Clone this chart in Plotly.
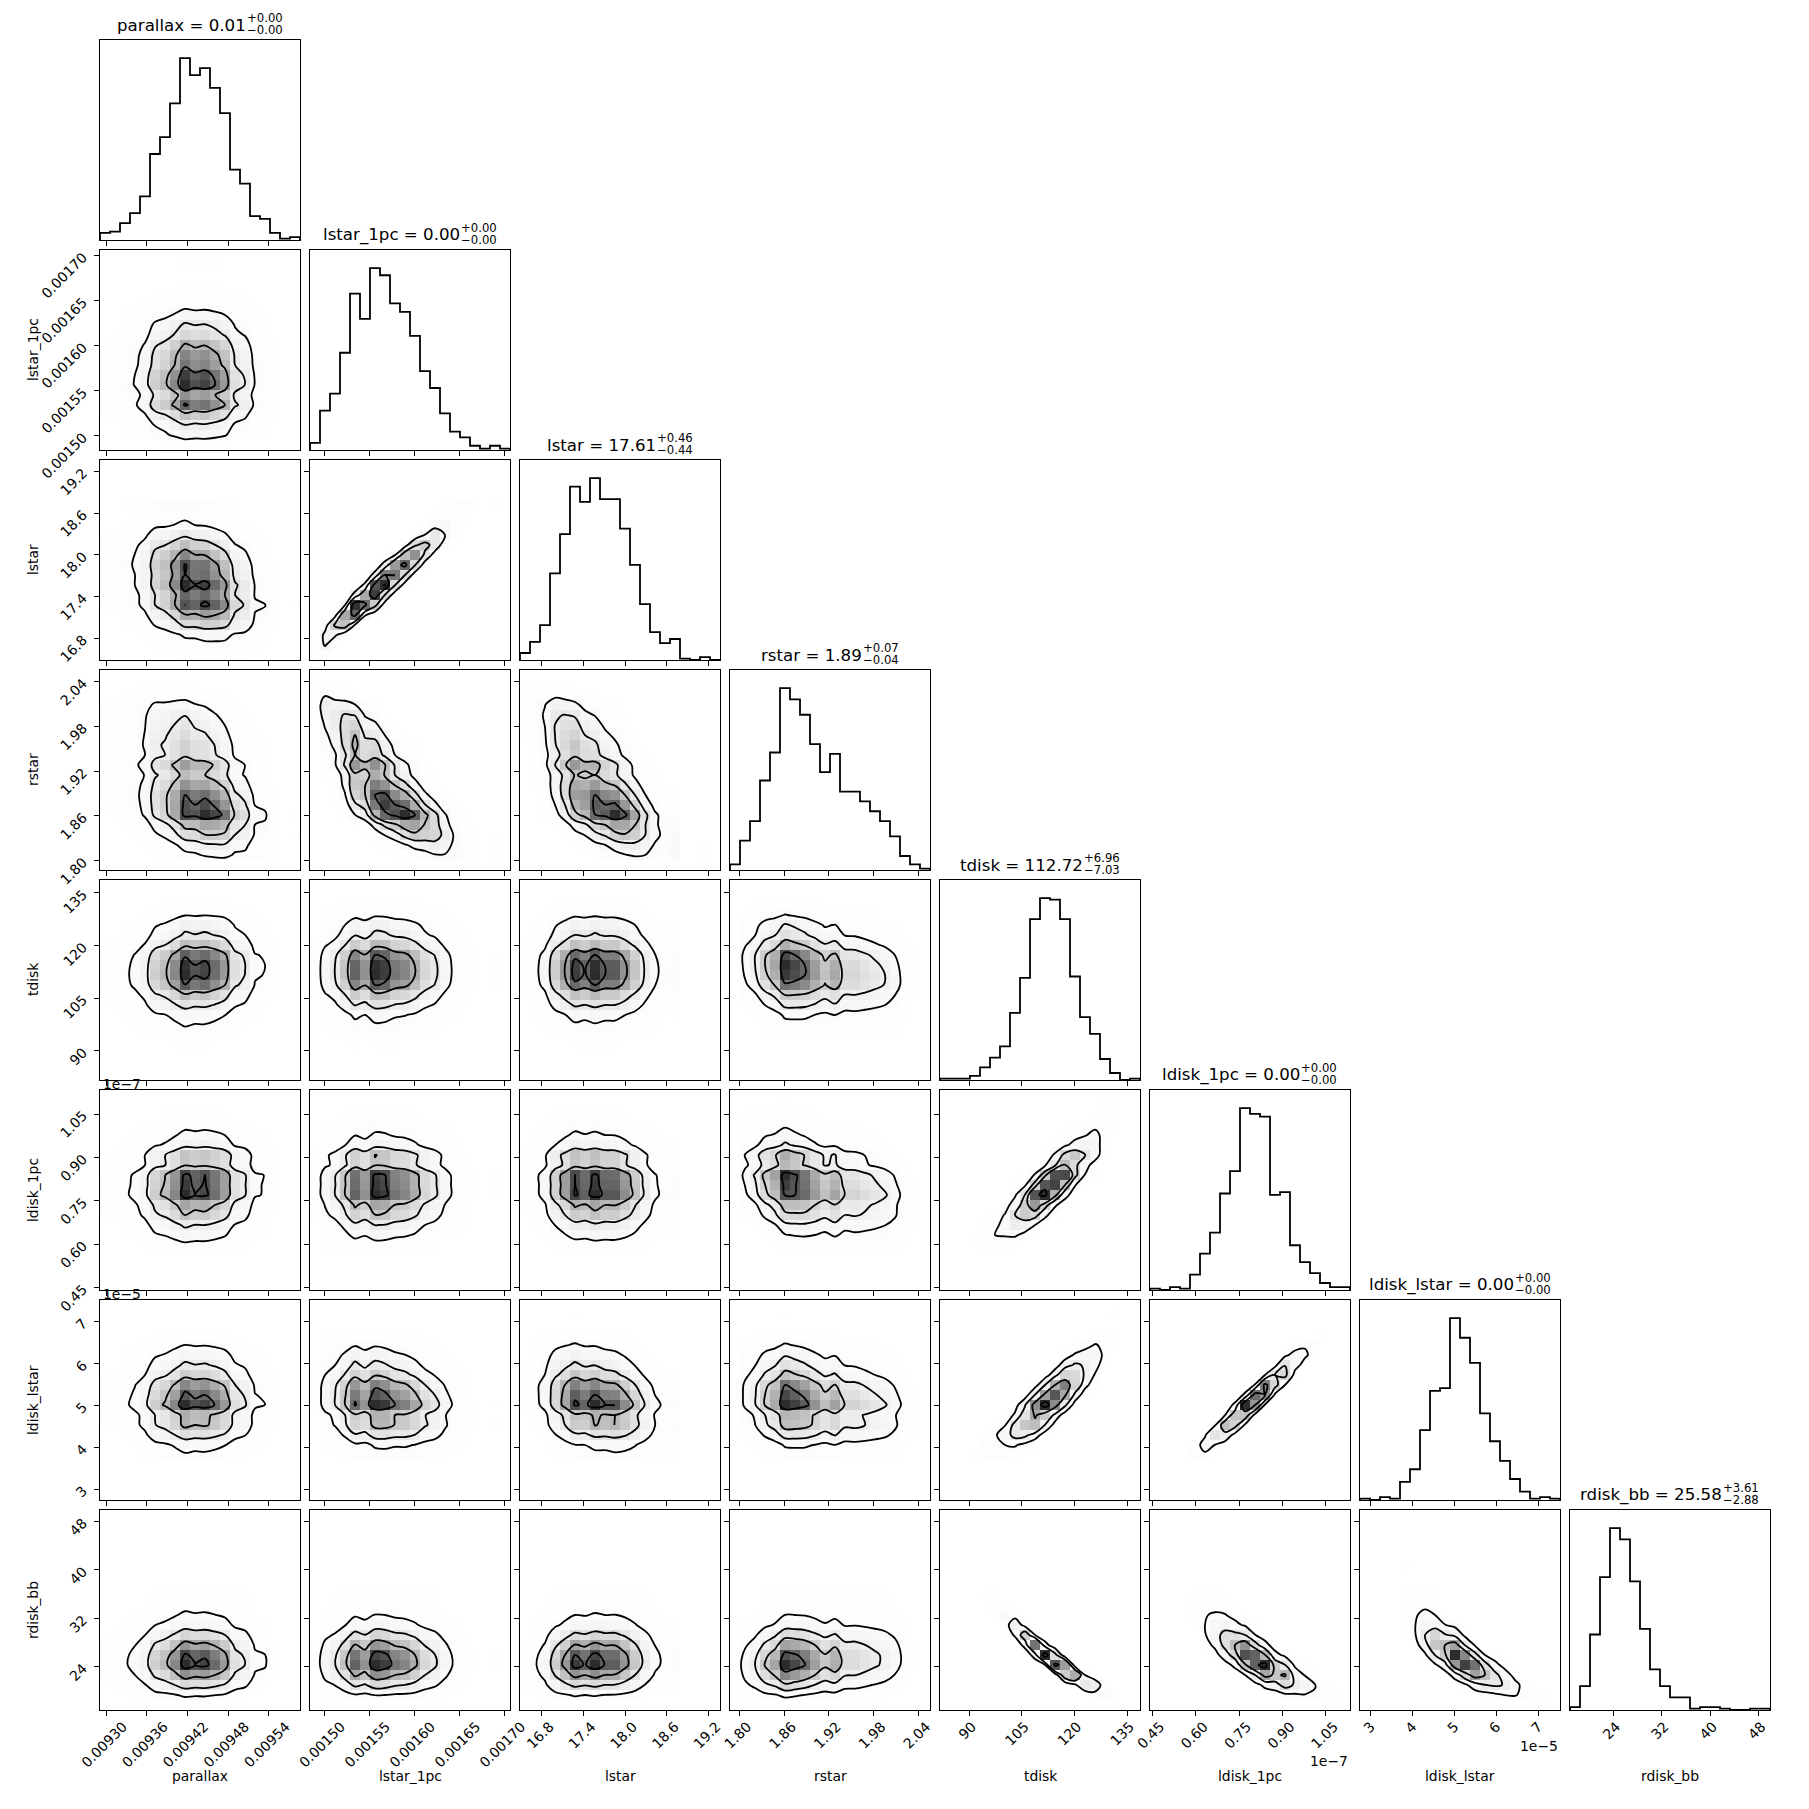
import math
import numpy as np
import plotly.graph_objects as go

# ---------------- data ----------------
names = ["parallax", "lstar_1pc", "lstar", "rstar", "tdisk", "ldisk_1pc", "ldisk_lstar", "rdisk_bb"]

hist_parallax = [5, 6, 12, 19, 31, 61, 73, 97, 129, 117, 122, 108, 90, 50, 40, 17, 15, 5, 1, 2]
hist_lstar_1pc = [5, 28, 40, 69, 111, 93, 129, 124, 104, 98, 81, 56, 44, 26, 13, 9, 3, 1, 3, 1]
hist_lstar = [5, 13, 25, 62, 90, 124, 113, 130, 115, 115, 94, 68, 40, 20, 12, 15, 1, 0, 2, 0]
hist_rstar = [4, 21, 35, 64, 84, 130, 122, 111, 90, 70, 83, 56, 56, 49, 42, 35, 24, 10, 4, 1]
hist_tdisk = [1, 1, 1, 3, 9, 16, 24, 48, 73, 115, 130, 129, 115, 74, 45, 33, 15, 5, 0, 1]
hist_ldisk_1pc = [1, 0, 2, 1, 11, 26, 41, 69, 85, 130, 126, 124, 68, 70, 32, 20, 12, 5, 2, 2]
hist_ldisk_lstar = [1, 0, 2, 1, 13, 22, 50, 78, 80, 130, 116, 98, 62, 42, 28, 15, 6, 1, 2, 1]
hist_rdisk_bb = [2, 17, 54, 95, 130, 122, 92, 58, 29, 17, 9, 9, 1, 2, 2, 1, 0, 0, 1, 1]

range_parallax = [0.009291, 0.009586]
range_lstar_1pc = [0.0014844, 0.0017063]
range_lstar = [16.486, 19.365]
range_rstar = [1.7875, 2.0557]
range_tdisk = [81.7, 138.7]
range_ldisk_1pc = [0.442e-7, 1.133e-7]
range_ldisk_lstar = [2.74e-5, 7.52e-5]
range_rdisk_bb = [16.85, 49.9]

ticks_parallax = [0.00930, 0.00936, 0.00942, 0.00948, 0.00954]
labels_parallax = ["0.00930", "0.00936", "0.00942", "0.00948", "0.00954"]
ticks_lstar_1pc = [0.00150, 0.00155, 0.00160, 0.00165, 0.00170]
labels_lstar_1pc = ["0.00150", "0.00155", "0.00160", "0.00165", "0.00170"]
ticks_lstar = [16.8, 17.4, 18.0, 18.6, 19.2]
labels_lstar = ["16.8", "17.4", "18.0", "18.6", "19.2"]
ticks_rstar = [1.80, 1.86, 1.92, 1.98, 2.04]
labels_rstar = ["1.80", "1.86", "1.92", "1.98", "2.04"]
ticks_tdisk = [90, 105, 120, 135]
labels_tdisk = ["90", "105", "120", "135"]
ticks_ldisk_1pc = [0.45e-7, 0.60e-7, 0.75e-7, 0.90e-7, 1.05e-7]
labels_ldisk_1pc = ["0.45", "0.60", "0.75", "0.90", "1.05"]
ticks_ldisk_lstar = [3e-5, 4e-5, 5e-5, 6e-5, 7e-5]
labels_ldisk_lstar = ["3", "4", "5", "6", "7"]
ticks_rdisk_bb = [24, 32, 40, 48]
labels_rdisk_bb = ["24", "32", "40", "48"]

offset_text = ["", "", "", "", "", "1e\u22127", "1e\u22125", ""]

title_value = ["0.01", "0.00", "17.61", "1.89", "112.72", "0.00", "0.00", "25.58"]
title_plus = ["0.00", "0.00", "0.46", "0.07", "6.96", "0.00", "0.00", "3.61"]
title_minus = ["0.00", "0.00", "0.44", "0.04", "7.03", "0.00", "0.00", "2.88"]

# pairwise (rank) correlation estimated from each panel, lower triangle: row i vs column j<i
corr_rows = [
    [],
    [0.0],
    [-0.2, 0.96],
    [-0.3, -0.75, -0.6],
    [0.05, 0.0, 0.0, -0.15],
    [0.05, 0.0, -0.05, -0.25, 0.88],
    [0.0, -0.15, -0.2, -0.15, 0.88, 0.975],
    [0.0, 0.0, 0.05, 0.1, -0.985, -0.85, -0.85],
]

hists = [hist_parallax, hist_lstar_1pc, hist_lstar, hist_rstar, hist_tdisk,
         hist_ldisk_1pc, hist_ldisk_lstar, hist_rdisk_bb]
ranges = [range_parallax, range_lstar_1pc, range_lstar, range_rstar, range_tdisk,
          range_ldisk_1pc, range_ldisk_lstar, range_rdisk_bb]
tickv = [ticks_parallax, ticks_lstar_1pc, ticks_lstar, ticks_rstar, ticks_tdisk,
         ticks_ldisk_1pc, ticks_ldisk_lstar, ticks_rdisk_bb]
tickt = [labels_parallax, labels_lstar_1pc, labels_lstar, labels_rstar, labels_tdisk,
         labels_ldisk_1pc, labels_ldisk_lstar, labels_rdisk_bb]

K = len(names)
NB = 20
W = 1809
OFF = 8  # page body margin of the html page
FONT = "DejaVu Sans"


def PX(x):
    return (x - OFF) / W


def PY(y):
    return 1 - (y - OFF) / W


# ---------------- helpers ----------------
_zs = np.linspace(-7, 7, 4001)
_phi = 0.5 * (1 + np.array([math.erf(z / math.sqrt(2)) for z in _zs]))


def ppf(u):
    return np.interp(u, _phi, _zs)


NSUB = 8


def fine_scores(counts):
    c = np.asarray(counts, float)
    tot = c.sum()
    before = np.concatenate([[0.0], np.cumsum(c)[:-1]])
    frac = (np.arange(NSUB) + 0.5) / NSUB
    u = (before[:, None] + c[:, None] * frac[None, :]) / tot
    u = np.clip(u, 1e-6, 1 - 1e-6)
    return ppf(u.ravel()), np.repeat(c / NSUB, NSUB)


def joint(hx, hy, r):
    zx, wx = fine_scores(hx)
    zy, wy = fine_scores(hy)
    z1 = zx[:, None]
    z2 = zy[None, :]
    cop = np.exp(-(r * r * (z1 ** 2 + z2 ** 2) - 2 * r * z1 * z2) / (2 * (1 - r * r))) / np.sqrt(1 - r * r)
    m = wx[:, None] * wy[None, :] * cop
    return m.reshape(NB, NSUB, NB, NSUB).sum(axis=(1, 3))


levels = 1.0 - np.exp(-0.5 * np.arange(0.5, 2.1, 0.5) ** 2)


def contour_levels(H):
    flat = np.sort(H.ravel())[::-1]
    sm = np.cumsum(flat)
    sm /= sm[-1]
    V = []
    for v0 in levels:
        sel = flat[sm <= v0]
        V.append(sel[-1] if len(sel) else flat[0])
    return sorted(V)


def pad_grid(H, X1, Y1):
    H2 = H.min() + np.zeros((H.shape[0] + 4, H.shape[1] + 4))
    H2[2:-2, 2:-2] = H
    H2[2:-2, 1] = H[:, 0]
    H2[2:-2, -2] = H[:, -1]
    H2[1, 2:-2] = H[0]
    H2[-2, 2:-2] = H[-1]
    H2[1, 1] = H[0, 0]
    H2[1, -2] = H[0, -1]
    H2[-2, 1] = H[-1, 0]
    H2[-2, -2] = H[-1, -1]
    X2 = np.concatenate([X1[0] + np.array([-2, -1]) * np.diff(X1[:2]), X1,
                         X1[-1] + np.array([1, 2]) * np.diff(X1[-2:])])
    Y2 = np.concatenate([Y1[0] + np.array([-2, -1]) * np.diff(Y1[:2]), Y1,
                         Y1[-1] + np.array([1, 2]) * np.diff(Y1[-2:])])
    return H2, X2, Y2


ADV = {'a': 1255, 'b': 1300, 'c': 1126, 'd': 1300, 'e': 1260, 'f': 721, 'g': 1300, 'h': 1298,
       'i': 569, 'j': 569, 'k': 1186, 'l': 569, 'm': 1995, 'n': 1298, 'o': 1253, 'p': 1300,
       'q': 1300, 'r': 842, 's': 1067, 't': 803, 'u': 1298, 'v': 1212, 'w': 1675, 'x': 1212,
       'y': 1212, 'z': 1075, ' ': 651, '=': 1716, '.': 651, '_': 1024, '+': 1716, '\u2212': 1716}


def text_em(s):
    return sum(ADV.get(ch, 1303) for ch in s) / 2048.0


gray_scale = [[s, "rgb({0},{0},{0})".format(int(round(255 * (1 - s * s))))] for s in np.linspace(0, 1, 11)]

fig = go.Figure()
layout = {}
annotations = []

edges = [np.linspace(r[0], r[1], NB + 1) for r in ranges]
centers = [0.5 * (e[1:] + e[:-1]) for e in edges]

n = 0
for i in range(K):
    for j in range(i + 1):
        n += 1
        xs = "x" if n == 1 else "x%d" % n
        ys = "y" if n == 1 else "y%d" % n
        xk = "xaxis" if n == 1 else "xaxis%d" % n
        yk = "yaxis" if n == 1 else "yaxis%d" % n
        left = 100 + 210 * j
        top = 40 + 210 * i
        xdom = [PX(left), PX(left + 200)]
        ydom = [PY(top + 200), PY(top)]

        common = dict(showline=True, mirror=True, linecolor="black", linewidth=1.1,
                      showgrid=False, zeroline=False, ticks="outside", ticklen=5, tickwidth=1.1,
                      tickcolor="black", automargin=False,
                      tickfont=dict(family=FONT, size=13.9, color="black"))
        xlab = tickt[j]
        xshift = int(round(0.707 * text_em(xlab[0]) * 13.9 / 2 - 3))
        layout[xk] = dict(common, domain=xdom, anchor=ys, range=ranges[j], tickvals=tickv[j],
                          ticktext=xlab, showticklabels=(i == K - 1), tickangle=-45,
                          ticklabelshift=xshift, ticklabelstandoff=-3)
        if i == j:
            h = np.asarray(hists[i], float)
            e = edges[i]
            sx = np.repeat(e, 2)
            sy = np.concatenate([[0.0], np.repeat(h, 2), [0.0]])
            fig.add_trace(go.Scatter(x=sx, y=sy, mode="lines", line=dict(color="black", width=1.8),
                                     xaxis=xs, yaxis=ys, hoverinfo="skip", showlegend=False))
            layout[yk] = dict(common, domain=ydom, anchor=xs, range=[0, 1.1 * h.max()],
                              ticks="", showticklabels=False)
            # title
            cx = left + 100
            mw = text_em(names[i] + " = " + title_value[i]) * 16.67
            sw = max(text_em("+" + title_plus[i]), text_em("\u2212" + title_minus[i])) * 11.67
            jx = cx - (mw + sw) / 2 + mw
            ytop = PY(top)
            annotations.append(dict(x=PX(jx), y=ytop, xref="paper", yref="paper", xanchor="right",
                                    yanchor="bottom", yshift=3, xshift=1, showarrow=False,
                                    text=names[i] + " = " + title_value[i],
                                    font=dict(family=FONT, size=16.67, color="black")))
            annotations.append(dict(x=PX(jx), y=ytop, xref="paper", yref="paper", xanchor="left",
                                    yanchor="bottom", yshift=13, xshift=-2, showarrow=False,
                                    text="+" + title_plus[i],
                                    font=dict(family=FONT, size=11.67, color="black")))
            annotations.append(dict(x=PX(jx), y=ytop, xref="paper", yref="paper", xanchor="left",
                                    yanchor="bottom", yshift=1, xshift=-2, showarrow=False,
                                    text="\u2212" + title_minus[i],
                                    font=dict(family=FONT, size=11.67, color="black")))
        else:
            r = corr_rows[i][j]
            H = joint(hists[j], hists[i], r)
            fig.add_trace(go.Heatmap(x=centers[j], y=centers[i], z=H.T, zmin=0, zmax=1.1 * H.max(),
                                     colorscale=gray_scale, showscale=False, zsmooth=False,
                                     xaxis=xs, yaxis=ys, hoverinfo="skip"))
            H2, X2, Y2 = pad_grid(H, centers[j], centers[i])
            for v in contour_levels(H):
                fig.add_trace(go.Contour(x=X2, y=Y2, z=H2.T, autocontour=False,
                                         contours=dict(start=v, end=v, size=max(v, 1e-12), coloring="none"),
                                         line=dict(color="black", width=1.8), showscale=False,
                                         xaxis=xs, yaxis=ys, hoverinfo="skip"))
            layout[yk] = dict(common, domain=ydom, anchor=xs, range=ranges[i], tickvals=tickv[i],
                              ticktext=tickt[i], showticklabels=(j == 0), tickangle=-45,
                              ticklabelstandoff=8)

# axis labels
for k in range(K):
    cx = 100 + 210 * k + 100
    annotations.append(dict(x=PX(cx), y=PY(1776), xref="paper", yref="paper", xanchor="center",
                            yanchor="middle", showarrow=False, text=names[k],
                            font=dict(family=FONT, size=13.9, color="black")))
    if k > 0:
        cy = 40 + 210 * k + 100
        annotations.append(dict(x=PX(33), y=PY(cy), xref="paper", yref="paper", xanchor="center",
                                yanchor="middle", textangle=-90, showarrow=False, text=names[k],
                                font=dict(family=FONT, size=13.9, color="black")))

# scientific offsets
for k in range(K):
    if offset_text[k]:
        ytop = 40 + 210 * k
        annotations.append(dict(x=PX(101), y=PY(ytop), xref="paper", yref="paper", xanchor="left",
                                yanchor="bottom", yshift=-4, showarrow=False, text=offset_text[k],
                                font=dict(family=FONT, size=13.9, color="black")))
offset_x_y = {5: 1761, 6: 1746}
for k, yy in offset_x_y.items():
    xr = 100 + 210 * k + 200
    annotations.append(dict(x=PX(xr), y=PY(yy), xref="paper", yref="paper", xanchor="right",
                            yanchor="middle", showarrow=False, text=offset_text[k],
                            font=dict(family=FONT, size=13.9, color="black")))

fig.update_layout(width=W, height=W, margin=dict(l=0, r=0, t=0, b=0, autoexpand=False),
                  paper_bgcolor="white", plot_bgcolor="white", showlegend=False,
                  hovermode=False, annotations=annotations, **layout)

fig.write_html("out.html")
